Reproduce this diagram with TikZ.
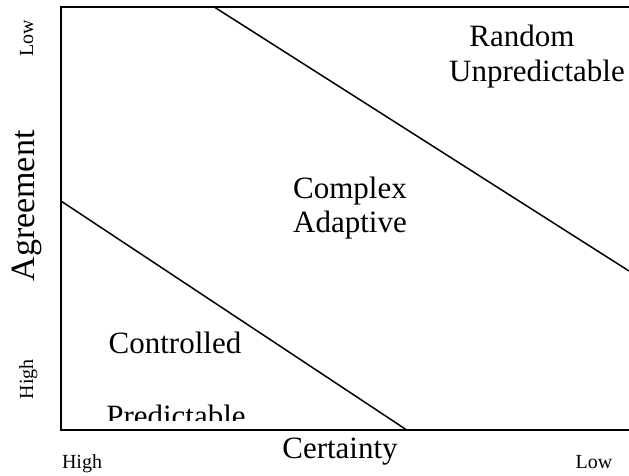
\documentclass[tikz,border=0pt]{standalone}
\usepackage{fontspec}
\setmainfont{Liberation Serif}

\tikzset{
  bigtext/.style={font=\fontsize{31}{35}\selectfont, inner sep=0pt, anchor=base},
  smalltext/.style={font=\fontsize{20}{22}\selectfont, inner sep=0pt, anchor=base},
  frame/.style={line width=2pt},
  divider/.style={line width=1.5pt},
}

\begin{document}
\begin{tikzpicture}[x=1pt,y=-1pt]
\useasboundingbox (0,0) rectangle (629,476);

% corners of the chart
\coordinate (tr) at (629,7.5);
\coordinate (tl) at (60.5,7.5);
\coordinate (bl) at (60.5,429.5);
\coordinate (br) at (629,429.5);

\draw[frame] (tr) -- (tl) -- (bl) -- (br);

% region boundaries
\draw[divider] (60.5,200.7) -- (406,429.5);
\draw[divider] (215,7.5) -- (629,271);

% axis labels
\node[bigtext] (cert) at (340,458) {Certainty};
\node[bigtext,rotate=90,font=\fontsize{34}{38}\selectfont] (agr) at (34,206) {Agreement};

\node[smalltext] (chigh) at (82,468) {High};
\node[smalltext] (clow) at (594,468) {Low};
\node[smalltext,rotate=90] (alow) at (33,38.5) {Low};
\node[smalltext,rotate=90] (ahigh) at (33,379) {High};

% region names
\node[bigtext] (rand) at (522,47) {Random};
\node[bigtext] (unpr) at (537,82) {Unpredictable};
\node[bigtext] (comp) at (350,198) {Complex};
\node[bigtext] (adap) at (350,232) {Adaptive};
\node[bigtext] (ctrl) at (175,353) {Controlled};

\begin{scope}
\clip (0,0) rectangle (629,420);
\node[bigtext] (pred) at (176,426) {Predictable};
\end{scope}
\end{tikzpicture}
\end{document}
